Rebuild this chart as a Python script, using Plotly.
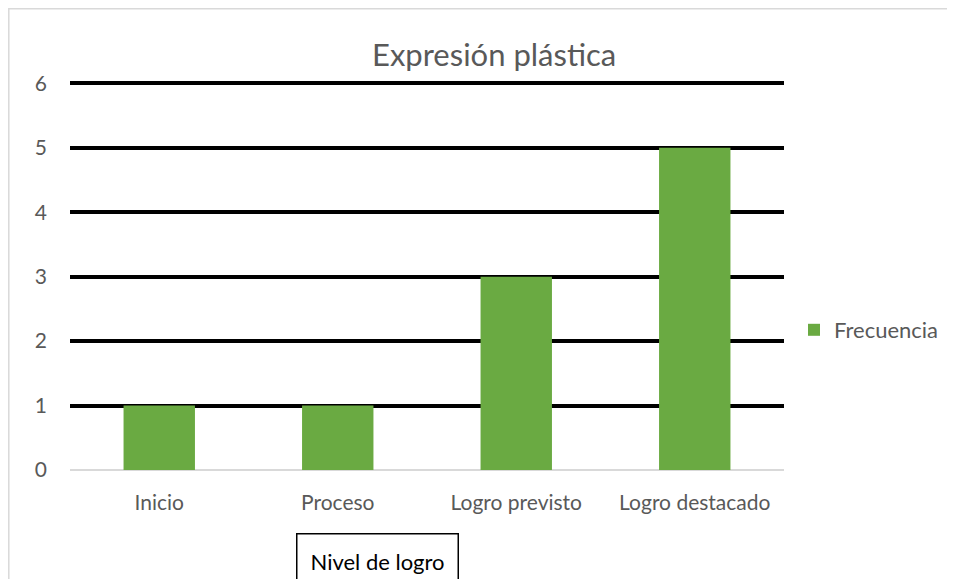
import plotly.graph_objects as go

categories = ["Inicio", "Proceso", "Logro previsto", "Logro destacado"]
frecuencia = [1, 1, 3, 5]
y_ticks = [0, 1, 2, 3, 4, 5, 6]

FONT = "Lato, 'Open Sans', sans-serif"
GREY = "#595959"

fig = go.Figure()
fig.add_trace(go.Bar(
    x=categories, y=frecuencia, name="Frecuencia",
    marker=dict(color="#6aaa42", line=dict(width=0)),
))

# page is drawn with an 8px body margin; coordinates below are page pixels
OFF = 8
W, H = 955 - OFF, 579 - OFF
L, T = 70 - OFF, 82 - OFF
R = W - (784 - OFF)
B = H - (470 - OFF)
pw, ph = W - L - R, H - T - B

def px_x(p):
    return (p - OFF - L) / pw

def px_y(p):
    return (H - B - (p - OFF)) / ph

fig.update_layout(
    width=W, height=H,
    margin=dict(l=L, r=R, t=T, b=B, autoexpand=False),
    paper_bgcolor="white", plot_bgcolor="white",
    font=dict(family=FONT, color=GREY, size=21),
    bargap=0.6,
    showlegend=True,
    legend=dict(x=px_x(794), y=px_y(330), xanchor="left", yanchor="middle",
                font=dict(size=22, color=GREY, family=FONT),
                itemsizing="constant"),
    xaxis=dict(showgrid=False, showline=False, ticks="", tickfont=dict(size=21),
               ticklabelstandoff=18),
    yaxis=dict(range=[0, 6.02], tickvals=y_ticks, showgrid=True, gridcolor="black",
               gridwidth=3.5, zeroline=True, zerolinecolor="#d9d9d9", zerolinewidth=1.5,
               showline=False, ticks="", tickfont=dict(size=21), ticklabelstandoff=22),
    annotations=[
        dict(text="Expresión plástica", xref="paper", yref="paper",
             x=px_x(494), y=px_y(54), xanchor="center", yanchor="middle",
             showarrow=False, font=dict(size=31, color=GREY, family=FONT)),
        dict(text="Nivel de logro", xref="paper", yref="paper",
             x=px_x(377), y=px_y(561), xanchor="center", yanchor="middle",
             showarrow=False, font=dict(size=22, color="black", family=FONT),
             bordercolor="black", borderwidth=1.5, borderpad=13, bgcolor="white"),
    ],
    shapes=[
        dict(type="rect", xref="paper", yref="paper", layer="below",
             x0=px_x(8.8), x1=px_x(990), y0=px_y(620), y1=px_y(8.8),
             line=dict(color="#d9d9d9", width=1.5), fillcolor="rgba(0,0,0,0)"),
    ],
)

fig.write_html("out.html")
